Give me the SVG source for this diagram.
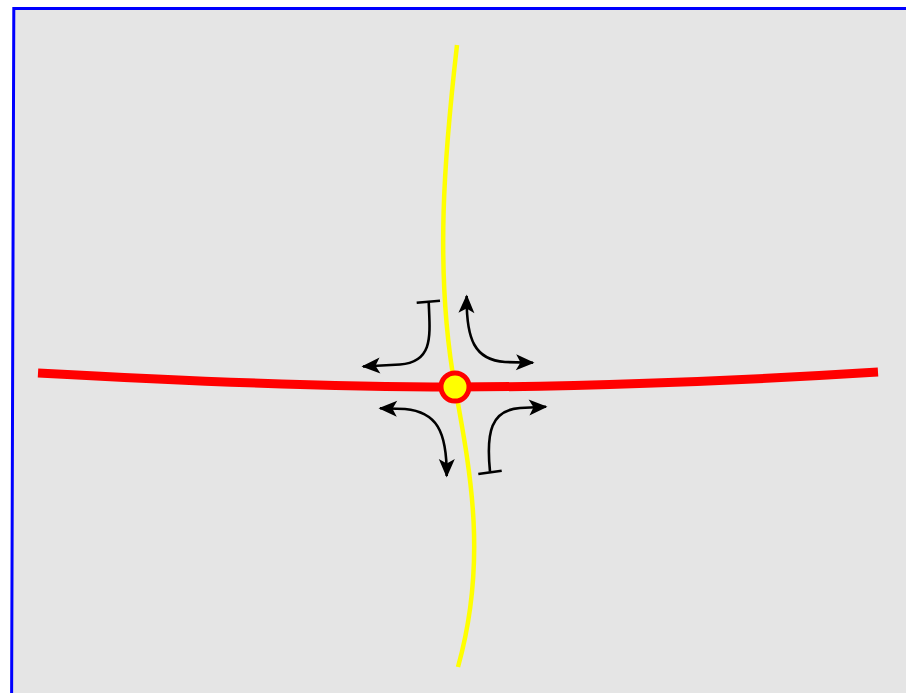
<svg xmlns="http://www.w3.org/2000/svg" width="906" height="693" viewBox="0 0 906 693">
<style>
.arr{fill:none;stroke:#000;stroke-width:2.6}
.bar{stroke:#000;stroke-width:2.6}
</style>
<defs>
<marker id="ah" markerUnits="userSpaceOnUse" markerWidth="22" markerHeight="18" viewBox="-19 -9 21 18" refX="0" refY="0" orient="auto-start-reverse">
<path d="M1.5,0 L-17,-8 L-12.5,0 L-17,8 z" fill="#000"/>
</marker>
</defs>
<rect x="0" y="0" width="906" height="693" fill="#fff"/>
<path id="frame" d="M912,8.5 L13.8,8.5 L11.6,700 L912,700 z" fill="#e5e5e5" stroke="#0000ff" stroke-width="3"/>
<g id="roads">
<path d="M38,373 C 200,382 350,387 455,387 C 560,387 720,382 878,372" fill="none" stroke="#ff0000" stroke-width="9"/>
<path d="M457,45 C 445,150 434,270 455,387 C 470,470 488,560 458,667" fill="none" stroke="#ffff00" stroke-width="4.5"/>
</g>
<g id="connectors">
<path class="arr" d="M428.7,302 C 430,335 434,362 400,364.5 L 363,366.5" marker-end="url(#ah)"/>
<line class="bar" x1="416.7" y1="302.7" x2="440" y2="300.7"/>
<path class="arr" d="M533,362.7 L 505,362 C 475,360 466,340 466.7,296" marker-start="url(#ah)" marker-end="url(#ah)"/>
<path class="arr" d="M380,408.3 L 405,409 C 436,412 447,430 446.7,476" marker-start="url(#ah)" marker-end="url(#ah)"/>
<path class="arr" d="M490,471.5 C 486,432 491,410 520,408 L 546,406.7" marker-end="url(#ah)"/>
<line class="bar" x1="478.3" y1="474" x2="501.7" y2="470.7"/>
</g>
<g id="junction">
<circle cx="455" cy="387" r="14" fill="#ffff00" stroke="#ff0000" stroke-width="5"/>
</g>
</svg>
